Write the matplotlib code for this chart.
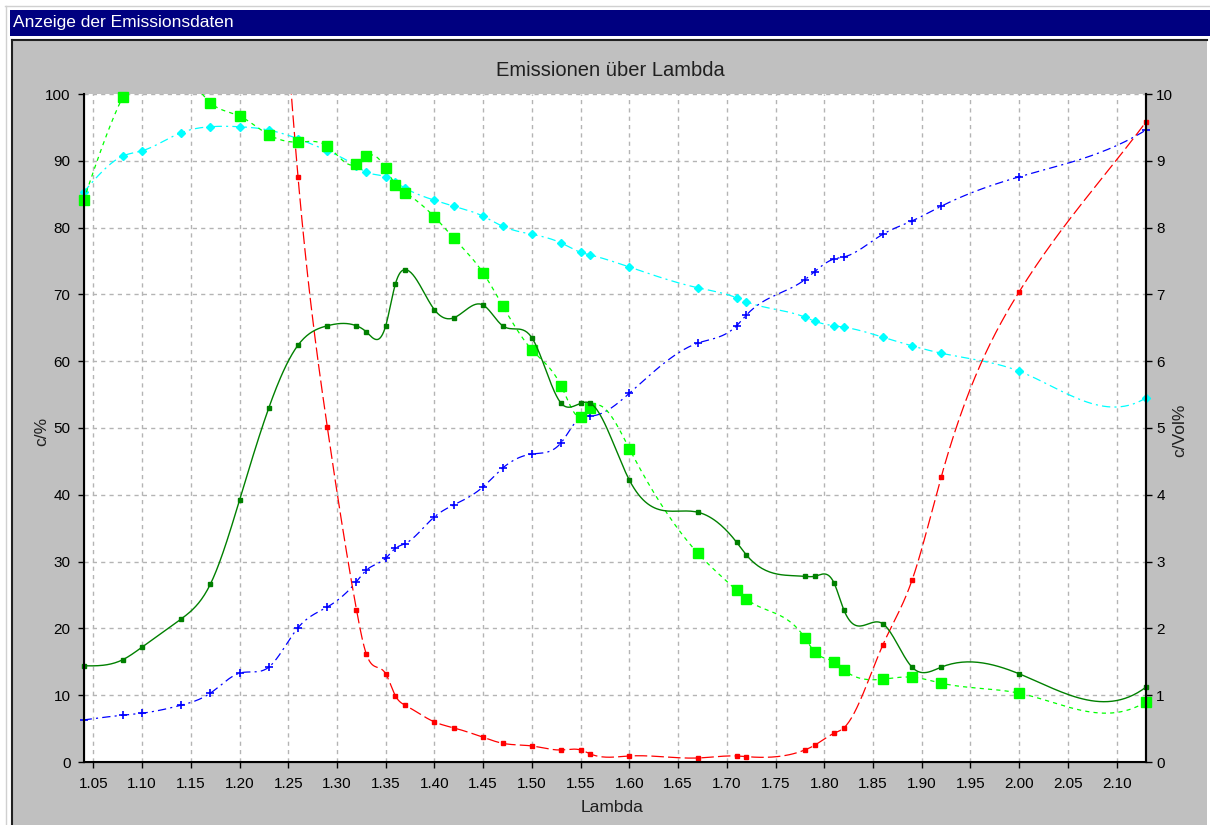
import numpy as np
import matplotlib
matplotlib.use('Agg')
import matplotlib.pyplot as plt
import matplotlib.patches as mp
from matplotlib.lines import Line2D

plt.rcParams['font.family'] = ['Liberation Sans', 'DejaVu Sans']
plt.rcParams['lines.scale_dashes'] = False

# lambda values where the measurements were taken
lam = [1.04, 1.08, 1.10, 1.14, 1.17, 1.20, 1.23, 1.26, 1.29, 1.32, 1.33, 1.35, 1.36, 1.37,
       1.40, 1.42, 1.45, 1.47, 1.50, 1.53, 1.55, 1.56, 1.60, 1.67, 1.71, 1.72, 1.78, 1.79,
       1.81, 1.82, 1.86, 1.89, 1.92, 2.00, 2.13]

# all series in units of the left axis (c/%), the right axis is just /10
dark_green = [14.4, 15.3, 17.2, 21.4, 26.6, 39.2, 53.0, 62.4, 65.3, 65.3, 64.4, 65.3, 71.6, 73.7,
              67.7, 66.5, 68.4, 65.3, 63.5, 53.7, 53.7, 53.7, 42.2, 37.4, 32.9, 31.0, 27.8, 27.8,
              26.8, 22.8, 20.7, 14.2, 14.2, 13.2, 11.2]
lime = [84.1, 99.5, 104, 104, 98.7, 96.7, 93.9, 92.8, 92.2, 89.5, 90.7, 88.9, 86.4, 85.2,
        81.6, 78.4, 73.2, 68.3, 61.7, 56.3, 51.6, 53.0, 46.9, 31.3, 25.7, 24.4, 18.6, 16.5,
        15.0, 13.8, 12.4, 12.7, 11.8, 10.3, 9.0]
cyan = [85.3, 90.7, 91.5, 94.2, 95.1, 95.1, 94.6, 93.3, 91.5, 89.2, 88.3, 87.6, 86.8, 85.9,
        84.1, 83.2, 81.7, 80.2, 79.0, 77.7, 76.3, 75.9, 74.1, 71.0, 69.5, 68.9, 66.6, 66.0,
        65.3, 65.1, 63.6, 62.3, 61.2, 58.5, 54.5]
blue = [6.3, 7.0, 7.3, 8.5, 10.3, 13.3, 14.2, 20.1, 23.2, 27.0, 28.7, 30.5, 32.0, 32.7,
        36.7, 38.5, 41.2, 44.0, 46.1, 47.8, 51.6, 51.8, 55.2, 62.7, 65.3, 66.9, 72.2, 73.4,
        75.3, 75.6, 79.0, 81.0, 83.2, 87.6, 94.6]
nan = float('nan')
red = [nan, nan, nan, nan, nan, nan, 150, 87.6, 50.2, 22.8, 16.2, 13.2, 9.9, 8.5,
       6.0, 5.1, 3.7, 2.8, 2.4, 1.8, 1.8, 1.2, 0.9, 0.6, 0.9, 0.8, 1.8, 2.5,
       4.3, 5.1, 17.5, 27.2, 42.7, 70.4, 95.8]

# slope of each curve where it meets the right border (units per lambda)
end_green = 110
end_lime = 90
end_cyan = 90
end_blue = 90
end_red = 195

xticks = [1.05, 1.10, 1.15, 1.20, 1.25, 1.30, 1.35, 1.40, 1.45, 1.50, 1.55, 1.60, 1.65, 1.70,
          1.75, 1.80, 1.85, 1.90, 1.95, 2.00, 2.05, 2.10]


def smooth(x, y, end_slope=None, n=30):
    # cubic spline through the points (natural at the left end, given slope at the right end)
    x = np.asarray(x, float)
    y = np.asarray(y, float)
    ok = ~np.isnan(y)
    x = x[ok]
    y = y[ok]
    k = len(x)
    h = np.diff(x)
    A = np.zeros((k, k))
    b = np.zeros(k)
    A[0, 0] = 1
    for i in range(1, k - 1):
        A[i, i - 1] = h[i - 1]
        A[i, i] = 2 * (h[i - 1] + h[i])
        A[i, i + 1] = h[i]
        b[i] = 6 * ((y[i + 1] - y[i]) / h[i] - (y[i] - y[i - 1]) / h[i - 1])
    if end_slope is None:
        A[-1, -1] = 1
    else:
        A[-1, -2] = h[-1]
        A[-1, -1] = 2 * h[-1]
        b[-1] = 6 * (end_slope - (y[-1] - y[-2]) / h[-1])
    M = np.linalg.solve(A, b)
    xs = []
    ys = []
    for i in range(k - 1):
        t = np.linspace(x[i], x[i + 1], n, endpoint=False)
        a = x[i + 1] - t
        c = t - x[i]
        s = (M[i] * a ** 3 + M[i + 1] * c ** 3) / (6 * h[i]) \
            + (y[i] / h[i] - M[i] * h[i] / 6) * a + (y[i + 1] / h[i] - M[i + 1] * h[i] / 6) * c
        xs.append(t)
        ys.append(s)
    xs.append([x[-1]])
    ys.append([y[-1]])
    return np.concatenate(xs), np.concatenate(ys)


def inside(v):
    # markers are drawn unclipped so the ones on the border stay whole; hide those above the top
    v = np.asarray(v, float)
    return np.where(v <= 100, v, np.nan)


W, H = 1210, 825
fig = plt.figure(figsize=(W / 100, H / 100), dpi=100, facecolor='white')

# window chrome: gray panel, dark inner border, navy title bar
fig.add_artist(mp.Rectangle((12 / W, 0), (1207 - 12) / W, (H - 40) / H, transform=fig.transFigure,
                            facecolor='#c0c0c0', edgecolor='none', zorder=0))
fig.add_artist(Line2D([12 / W, 12 / W], [0, 1 - 40 / H], transform=fig.transFigure, color='#202020', lw=1.5))
fig.add_artist(Line2D([12 / W, 1207 / W], [1 - 40 / H, 1 - 40 / H], transform=fig.transFigure, color='#202020', lw=1.5))
fig.add_artist(mp.Rectangle((10 / W, 1 - 36 / H), 1200 / W, 26 / H, transform=fig.transFigure,
                            facecolor='#000080', edgecolor='none'))
fig.add_artist(Line2D([5 / W, 1210 / W], [1 - 6 / H, 1 - 6 / H], transform=fig.transFigure, color='#d0d0d0', lw=1))
fig.add_artist(Line2D([6 / W, 6 / W], [0, 1 - 6 / H], transform=fig.transFigure, color='#d0d0d0', lw=1))
fig.text(13 / W, 1 - 23 / H, 'Anzeige der Emissionsdaten', color='white', va='center', fontsize=12.5)

ax = fig.add_axes([83.6 / W, 1 - 762 / H, (1145.9 - 83.6) / W, (762 - 94) / H])
ax.set_facecolor('white')
ax.set_xlim(1.04, 2.13)
ax.set_ylim(0, 100)
ax.set_xticks(xticks)
ax.set_xticklabels(['%.2f' % t for t in xticks])
ax.set_yticks(range(0, 101, 10))
ax.grid(True, color='#b4b4b4', linestyle=(0, (3, 3)), linewidth=1.0)
ax.set_axisbelow(True)
ax.spines['top'].set_visible(False)
for s in ('left', 'bottom', 'right'):
    ax.spines[s].set_linewidth(1.5)
ax.tick_params(direction='out', length=4.5, width=1, labelsize=11)
ax.tick_params(axis='x', pad=6)
ax.tick_params(axis='y', pad=5)

# series
x, y = smooth(lam, cyan, end_cyan)
ax.plot(x, y, color='#00ffff', lw=0.9, linestyle=(0, (6, 3, 1.5, 3)))
ax.plot(lam, inside(cyan), linestyle='none', marker='D', ms=4.5, color='#00ffff', clip_on=False)

x, y = smooth(lam, blue, end_blue)
ax.plot(x, y, color='#0000ff', lw=0.9, linestyle=(0, (6, 3, 1.5, 3)))
ax.plot(lam, inside(blue), linestyle='none', marker='+', ms=6, mew=1.2, color='#0000ff', clip_on=False)

x, y = smooth(lam, red, end_red)
ax.plot(x, y, color='#ff0000', lw=0.9, linestyle=(0, (9, 3)))
ax.plot(lam, inside(red), linestyle='none', marker='s', ms=2.8, color='#ff0000', clip_on=False)

x, y = smooth(lam, lime, end_lime)
ax.plot(x, y, color='#00ff00', lw=0.9, linestyle=(0, (3, 3)))
ax.plot(lam, inside(lime), linestyle='none', marker='s', ms=6.5, color='#00ff00', clip_on=False)

x, y = smooth(lam, dark_green, end_green)
ax.plot(x, y, color='#008000', lw=1.0)
ax.plot(lam, inside(dark_green), linestyle='none', marker='s', ms=2.8, color='#008000', clip_on=False)

ax2 = ax.twinx()
ax2.set_ylim(0, 10)
ax2.set_yticks(range(0, 11))
ax2.spines['top'].set_visible(False)
ax2.spines['right'].set_linewidth(1.5)
ax2.tick_params(direction='out', length=4.5, width=1, labelsize=11, pad=3)

fig.text(610 / W, 1 - 70 / H, 'Emissionen über Lambda', ha='center', va='center', fontsize=14.5, color='#202020')
fig.text(612 / W, 1 - 808 / H, 'Lambda', ha='center', va='center', fontsize=12.5, color='#202020')
fig.text(42 / W, 1 - 431 / H, 'c/%', ha='center', va='center', rotation=90, fontsize=12.5, color='#202020')
fig.text(1180 / W, 1 - 430 / H, 'c/Vol%', ha='center', va='center', rotation=90, fontsize=12.5, color='#202020')

fig.savefig('out.png', dpi=100, facecolor=fig.get_facecolor())
